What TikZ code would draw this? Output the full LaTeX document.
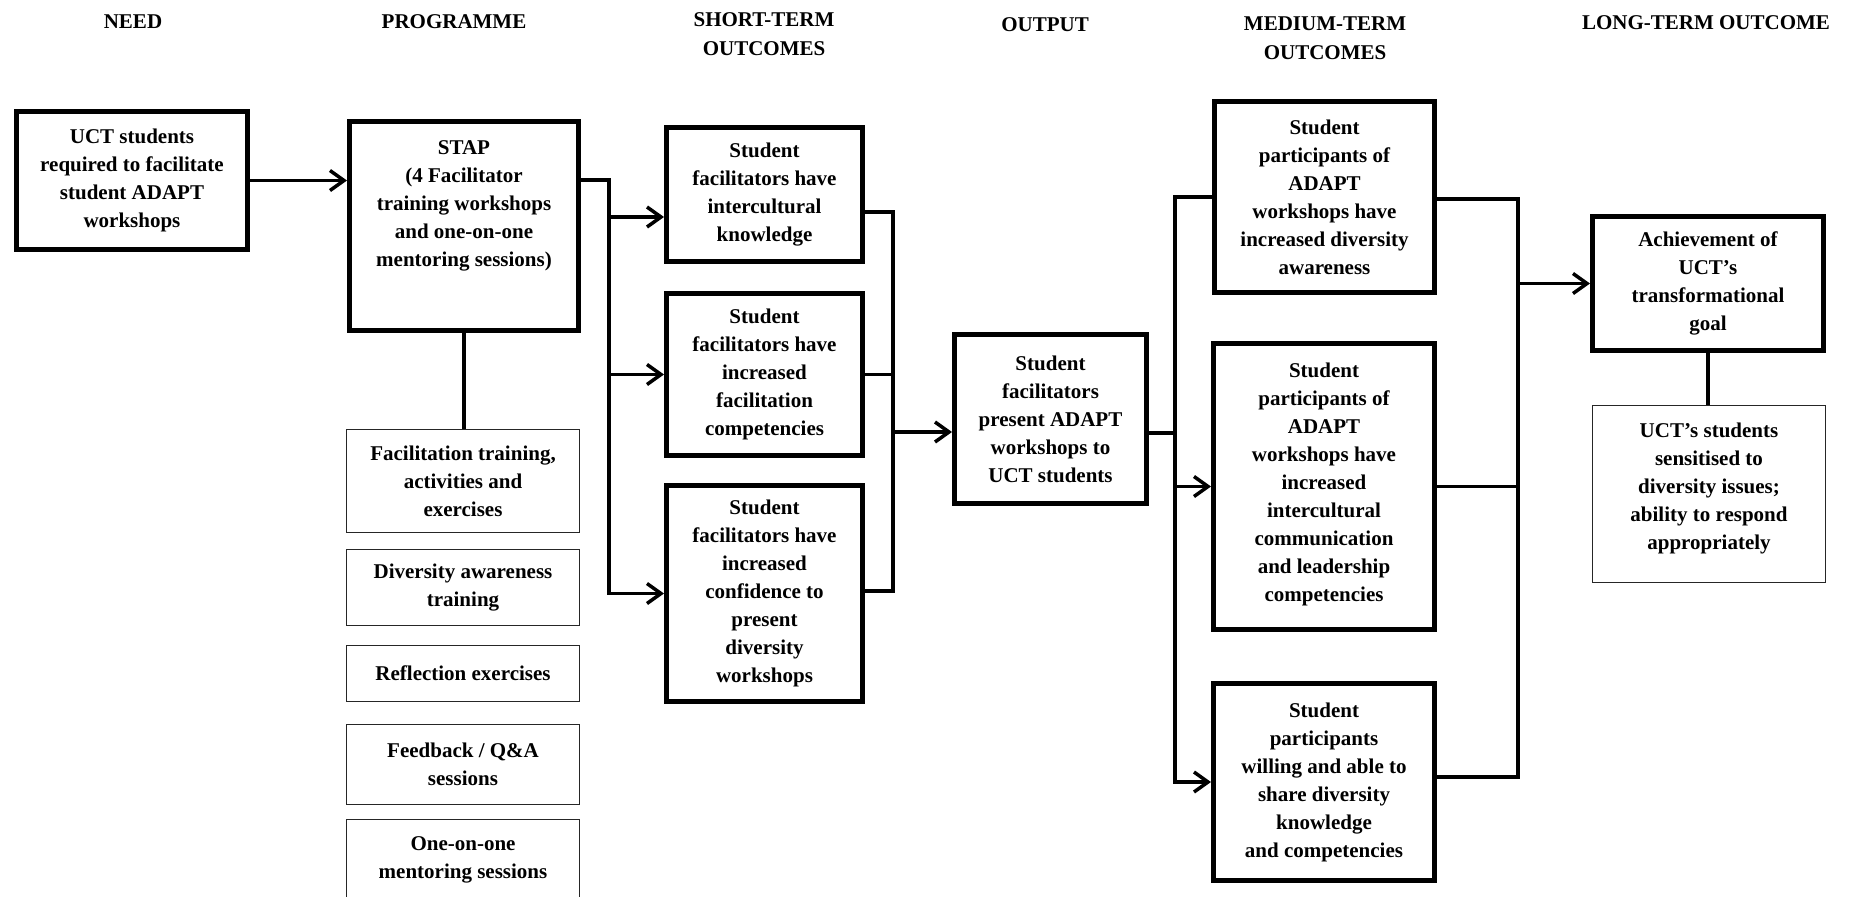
\documentclass[tikz,border=0pt]{standalone}
\usepackage{fontspec}
\setmainfont{Liberation Serif}
\usetikzlibrary{arrows.meta}
\begin{document}
\begin{tikzpicture}[x=1pt,y=-1pt,
  txtfont/.style={font=\bfseries\fontsize{21}{28}\selectfont},
  thickbox/.style={draw, line width=5pt, align=center, inner sep=0pt, txtfont},
  thinbox/.style={draw=black!85, line width=1.4pt, align=center, inner sep=0pt, txtfont},
  boxtext/.style={align=center, inner sep=0pt, txtfont},
  hdr/.style={anchor=base, inner sep=0pt, font=\bfseries\fontsize{21}{29}\selectfont},
  conn/.style={line width=3.5pt},
  arr/.style={conn, -{Straight Barb[length=14pt,width=20pt]}}]
\useasboundingbox (0,0) rectangle (1856,897);

% headers
\node[hdr] (hneed) at (133,28) {NEED};
\node[hdr] (hprog) at (454,28) {PROGRAMME};
\node[hdr] (hshorta) at (764,26) {SHORT-TERM};
\node[hdr] (hshortb) at (764,55) {OUTCOMES};
\node[hdr] (hout) at (1045,31) {OUTPUT};
\node[hdr] (hmeda) at (1325,30) {MEDIUM-TERM};
\node[hdr] (hmedb) at (1325,59) {OUTCOMES};
\node[hdr] (hlong) at (1706,29) {LONG-TERM OUTCOME};

% boxes
\node[thickbox, minimum width=231.5pt, minimum height=138pt] (need) at (132,180.5)
  {UCT students\\required to facilitate\\student ADAPT\\workshops};
\node[thickbox, minimum width=229pt, minimum height=209pt] (stap) at (464,226) {};
\node[boxtext] (stapt) at (464,206)
  {STAP\\(4 Facilitator\\training workshops\\and one-on-one\\mentoring sessions)};

\node[thickbox, minimum width=196pt, minimum height=134pt] (short1) at (764.5,194.5)
  {Student\\facilitators have\\intercultural\\knowledge};
\node[thickbox, minimum width=196pt, minimum height=162pt] (short2) at (764.5,374.5)
  {Student\\facilitators have\\increased\\facilitation\\competencies};
\node[thickbox, minimum width=196pt, minimum height=216pt] (short3) at (764.5,593.5)
  {Student\\facilitators have\\increased\\confidence to\\present\\diversity\\workshops};

\node[thickbox, minimum width=192pt, minimum height=169pt] (output) at (1050.5,419)
  {Student\\facilitators\\present ADAPT\\workshops to\\UCT students};

\node[thickbox, minimum width=220pt, minimum height=191pt] (med1) at (1324.5,197)
  {Student\\participants of\\ADAPT\\workshops have\\increased diversity\\awareness};
\node[thickbox, minimum width=221pt, minimum height=286pt] (med2) at (1324,486.5) {};
\node[boxtext] (med2t) at (1324,484)
  {Student\\participants of\\ADAPT\\workshops have\\increased\\intercultural\\communication\\and leadership\\competencies};
\node[thickbox, minimum width=221pt, minimum height=197pt] (med3) at (1324,782)
  {Student\\participants\\willing and able to\\share diversity\\knowledge\\and competencies};

\node[thickbox, minimum width=231pt, minimum height=134pt] (long) at (1708,283.5)
  {Achievement of\\UCT’s\\transformational\\goal};
\node[thinbox, minimum width=232.5pt, minimum height=176.5pt] (ucts) at (1709,494) {};
\node[boxtext] (ucts-t) at (1709,488)
  {UCT’s students\\sensitised to\\diversity issues;\\ability to respond\\appropriately};

% programme components
\node[thinbox, minimum width=233pt, minimum height=102.5pt] (sub1) at (463,481)
  {Facilitation training,\\activities and\\exercises};
\node[thinbox, minimum width=233pt, minimum height=75.5pt] (sub2) at (463,587.5)
  {Diversity awareness\\training};
\node[thinbox, minimum width=233pt, minimum height=55.5pt] (sub3) at (463,673.5)
  {Reflection exercises};
\node[thinbox, minimum width=233pt, minimum height=79.5pt] (sub4) at (463,764.5)
  {Feedback / Q\&A\\sessions};
\node[thinbox, minimum width=233pt, minimum height=90pt] (sub5) at (463,864.5) {};
\node[boxtext] (sub5t) at (463,860) {One-on-one\\mentoring sessions};

% connectors
\draw[arr] (need.east) -- (need.east -| stap.west);
\draw[conn] (stap.south) -- (stap.south |- sub1.north);

\coordinate (bus1) at (609,180);
\coordinate (s1in) at (664,217);
\draw[arr] (stap.east |- bus1) -- (bus1) -- (bus1 |- short3.west) -- (short3.west);
\draw[arr] (bus1 |- s1in) -- (s1in);
\draw[arr] (bus1 |- short2.west) -- (short2.west);

\coordinate (bus2) at (893,212);
\coordinate (s3ex) at (893,591);
\coordinate (outin) at (952,432);
\draw[conn] (short1.east |- bus2) -- (bus2) -- (s3ex) -- (s3ex -| short3.east);
\draw[conn] (short2.east) -- (short2.east -| bus2);
\draw[arr] (bus2 |- outin) -- (outin);

\coordinate (bus3) at (1175,433);
\draw[conn] (output.east |- bus3) -- (bus3);
\draw[arr] (med1.west) -- (med1.west -| bus3) -- (bus3 |- med3.west) -- (med3.west);
\draw[arr] (bus3 |- med2.west) -- (med2.west);

\coordinate (bus4) at (1518,199);
\coordinate (m3ex) at (1518,777);
\draw[conn] (med1.east |- bus4) -- (bus4) -- (m3ex) -- (m3ex -| med3.east);
\draw[conn] (med2.east) -- (med2.east -| bus4);
\draw[arr] (bus4 |- long.west) -- (long.west);
\draw[conn] (long.south) -- (long.south |- ucts.north);
\end{tikzpicture}
\end{document}
